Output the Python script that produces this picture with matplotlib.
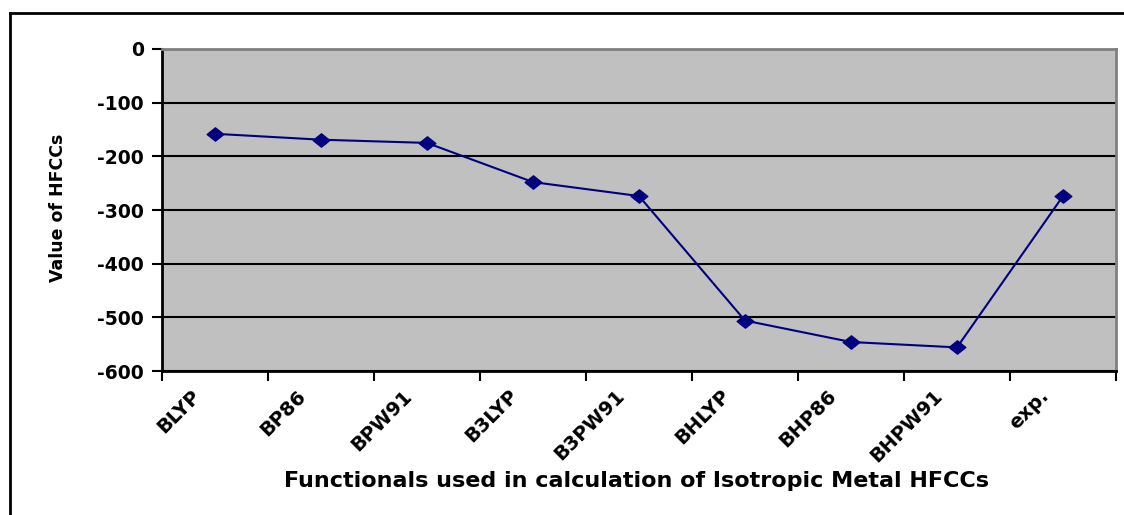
import matplotlib
matplotlib.use("Agg")
import matplotlib.pyplot as plt
from matplotlib.path import Path
from matplotlib.lines import Line2D

categories = ["BLYP", "BP86", "BPW91", "B3LYP", "B3PW91", "BHLYP", "BHP86", "BHPW91", "exp."]
values = [-158, -169, -175, -248, -274, -506, -546, -556, -274]
yticks = [0, -100, -200, -300, -400, -500, -600]

plt.rcParams['font.family'] = ['DejaVu Sans']
plt.rcParams['font.weight'] = 'bold'

fig = plt.figure(figsize=(11.24, 5.15), dpi=100)
W, H = 1124, 515
L, R, T, B = 162, 1116, 49, 371
ax = fig.add_axes([L / W, 1 - B / H, (R - L) / W, (B - T) / H])
ax.set_facecolor('#C0C0C0')

# outer chart border (left and top visible)
fig.add_artist(Line2D([10 / W, 10 / W], [0, 1 - 13 / H], transform=fig.transFigure, color='black', lw=2))
fig.add_artist(Line2D([10 / W, 1], [1 - 13 / H, 1 - 13 / H], transform=fig.transFigure, color='black', lw=2))

diamond = Path([(-1, 0), (0, 0.8), (1, 0), (0, -0.8), (-1, 0)],
               [Path.MOVETO, Path.LINETO, Path.LINETO, Path.LINETO, Path.CLOSEPOLY])

x = list(range(len(categories)))
ax.plot(x, values, color='#000080', lw=1.5, marker=diamond, markersize=12,
        markerfacecolor='#000080', markeredgecolor='#000080', zorder=5)

ax.set_xlim(-0.5, len(categories) - 0.5)
ax.set_ylim(-600, 0)
ax.set_yticks(yticks)
ax.set_yticklabels([str(v) for v in yticks], fontsize=13.5, fontweight='bold')
ax.yaxis.grid(True, color='black', lw=1.5)
ax.set_axisbelow(True)

ax.set_xticks([i - 0.5 for i in range(len(categories) + 1)])
ax.set_xticklabels([])
label_offset = 0.23  # labels sit slightly left of category centre (rotated text)
ax.set_xticks([i - label_offset for i in x], minor=True)
ax.set_xticklabels(categories, minor=True, rotation=45, ha='right', va='top',
                   fontsize=14, fontweight='bold', rotation_mode='anchor')
ax.tick_params(axis='x', which='minor', length=0, pad=11)
ax.tick_params(axis='x', which='major', length=7, width=1.5, direction='out')
ax.tick_params(axis='y', length=7, width=1.5, direction='out', pad=6)

for s in ['left', 'bottom']:
    ax.spines[s].set_color('black')
    ax.spines[s].set_linewidth(2)
for s in ['top', 'right']:
    ax.spines[s].set_color('#808080')
    ax.spines[s].set_linewidth(2)

fig.text(58 / W, 1 - 208 / H, "Value of HFCCs", rotation=90, ha='center', va='center',
         fontsize=12.5, fontweight='bold')
fig.text(636 / W, 1 - 481 / H, "Functionals used in calculation of Isotropic Metal HFCCs",
         ha='center', va='center', fontsize=16, fontweight='bold')

fig.savefig("out.png", dpi=100)
